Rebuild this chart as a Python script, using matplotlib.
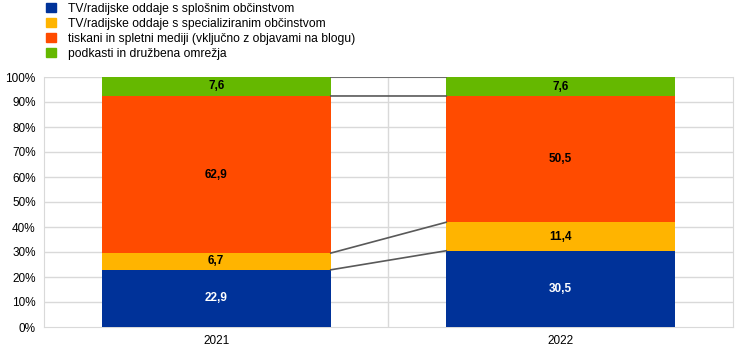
import numpy as np
import matplotlib.pyplot as plt
from matplotlib.patches import Patch

plt.rcParams['font.family'] = ['Liberation Sans', 'DejaVu Sans']

# --- Data ---
years = ['2021', '2022']
series_names = [
    'TV/radijske oddaje s splošnim občinstvom',
    'TV/radijske oddaje s specializiranim občinstvom',
    'tiskani in spletni mediji (vključno z objavami na blogu)',
    'podkasti in družbena omrežja',
]
general_tv = [22.9, 30.5]
special_tv = [6.7, 11.4]
print_web = [62.9, 50.5]
podcasts = [7.6, 7.6]

colors = ['#003299', '#FFB400', '#FF4B00', '#65B800']
label_colors = ['white', 'black', 'black', 'black']

values = np.array([general_tv, special_tv, print_web, podcasts])
shares = values / values.sum(axis=0) * 100  # 100% stacked

# --- Plot ---
fig = plt.figure(figsize=(7.44, 3.55), dpi=100)
ax = fig.add_axes([44 / 744, 28 / 355, 689 / 744, 250 / 355])

x = np.arange(len(years))
width = 0.665
bottom = np.zeros(len(years))
for vals, sh, col, lc in zip(values, shares, colors, label_colors):
    ax.bar(x, sh, width, bottom=bottom, color=col, zorder=3)
    for xi, v, b, s in zip(x, vals, bottom, sh):
        ax.text(xi, b + s / 2, f'{v:.1f}'.replace('.', ','), ha='center', va='center',
                color=lc, fontsize=8.5, fontweight='bold', zorder=4)
    top = bottom + sh
    # connector line between stacks
    ax.plot([x[0] + width / 2, x[1] - width / 2], [top[0], top[1]],
            color='#595959', lw=1.2, zorder=4)
    bottom = top

ax.set_xlim(-0.5, 1.5)
ax.set_ylim(0, 100)
ax.set_yticks(np.arange(0, 101, 10))
ax.set_yticklabels([f'{t}%' for t in range(0, 101, 10)])
ax.set_xticks(x)
ax.set_xticklabels(years)
ax.tick_params(length=0, labelsize=8.5, pad=6)

# gridlines: horizontal at ticks, vertical at category boundaries
for t in range(10, 101, 10):
    ax.axhline(t, color='#D9D9D9', lw=1, zorder=1)
ax.axvline(0.5, color='#D9D9D9', lw=1, zorder=1)
for sp in ax.spines.values():
    sp.set_color('#D9D9D9')
ax.spines['top'].set_visible(False)

handles = [Patch(color=c) for c in colors]
fig.legend(handles, series_names, loc='upper left', bbox_to_anchor=(41 / 744, 1.006),
           frameon=False, fontsize=8.7, handlelength=0.85, handleheight=0.85,
           labelspacing=0.25, handletextpad=1.0, borderaxespad=0)

fig.savefig('out.png', dpi=100)
